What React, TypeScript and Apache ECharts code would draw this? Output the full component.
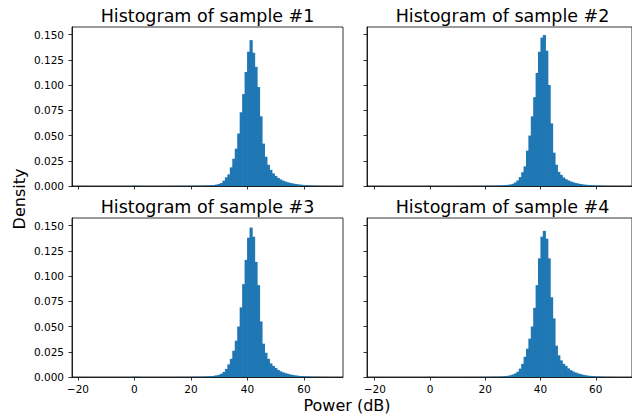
import { useEffect, useRef } from 'react';
import * as echarts from 'echarts';

// Bin layout (left column and right column have their own shared x ranges)
const binStartLeft = -17.7;
const binWidthLeft = 0.872;
const binStartRight = -18.4;
const binWidthRight = 0.871;

const xRangeLeft = [-22.1, 73.8];
const xRangeRight = [-22.8, 73.1];
const yMax = 0.1575;

const xTicks = [-20, 0, 20, 40, 60];
const yTicks = [0, 0.025, 0.05, 0.075, 0.1, 0.125, 0.15];

const titles = [
  'Histogram of sample #1',
  'Histogram of sample #2',
  'Histogram of sample #3',
  'Histogram of sample #4',
];

// density per bin (100 bins each)
const sample1 = [
  0.0001, 0, 0, 0, 0, 0, 0, 0, 0, 0,
  0, 0, 0, 0, 0, 0, 0, 0, 0, 0.0002,
  0.0003, 0.0002, 0, 0, 0, 0, 0, 0, 0, 0,
  0, 0, 0, 0, 0.0001, 0, 0, 0.0001, 0.0001, 0.0001,
  0.0001, 0.0001, 0.0002, 0.0002, 0.0002, 0.0002, 0.0003, 0.0003, 0.0004, 0.0005,
  0.0006, 0.0008, 0.0010, 0.0014, 0.0020, 0.0030, 0.0053, 0.0086, 0.0115, 0.0185,
  0.0270, 0.0370, 0.0520, 0.0730, 0.0910, 0.1130, 0.1330, 0.1445, 0.1320, 0.1180,
  0.0980, 0.0690, 0.0420, 0.0290, 0.0210, 0.0160, 0.0125, 0.0100, 0.0080, 0.0065,
  0.0053, 0.0044, 0.0036, 0.0030, 0.0025, 0.0021, 0.0017, 0.0014, 0.0011, 0.0009,
  0.0007, 0.0005, 0.0004, 0.0003, 0.0002, 0.0002, 0.0001, 0.0001, 0, 0.0001,
];

const sample2 = [
  0.0001, 0, 0, 0, 0, 0, 0, 0, 0, 0,
  0, 0, 0, 0, 0, 0, 0, 0, 0, 0,
  0.0002, 0.0002, 0, 0, 0, 0, 0, 0, 0, 0,
  0, 0, 0, 0, 0, 0.0001, 0, 0, 0, 0.0001,
  0.0001, 0.0001, 0.0001, 0.0001, 0.0002, 0.0002, 0.0002, 0.0003, 0.0003, 0.0004,
  0.0005, 0.0007, 0.0009, 0.0012, 0.0016, 0.0022, 0.0035, 0.0055, 0.0088, 0.0136,
  0.0195, 0.0350, 0.0500, 0.0690, 0.0880, 0.1120, 0.1330, 0.1470, 0.1495, 0.1340,
  0.1000, 0.0620, 0.0330, 0.0210, 0.0140, 0.0110, 0.0085, 0.0068, 0.0055, 0.0045,
  0.0037, 0.0030, 0.0025, 0.0020, 0.0016, 0.0013, 0.0011, 0.0009, 0.0007, 0.0006,
  0.0005, 0.0004, 0.0003, 0.0002, 0.0002, 0.0001, 0.0001, 0, 0, 0.0001,
];

const sample3 = [
  0.0001, 0, 0, 0, 0, 0, 0, 0, 0, 0,
  0, 0, 0, 0, 0, 0, 0, 0, 0, 0.0002,
  0.0003, 0.0002, 0, 0, 0, 0, 0, 0, 0, 0,
  0, 0, 0, 0.0001, 0, 0, 0, 0, 0.0001, 0.0001,
  0.0001, 0.0001, 0.0001, 0.0002, 0.0002, 0.0002, 0.0003, 0.0003, 0.0004, 0.0005,
  0.0007, 0.0009, 0.0012, 0.0016, 0.0022, 0.0032, 0.0050, 0.0080, 0.0125, 0.0180,
  0.0260, 0.0360, 0.0500, 0.0690, 0.0920, 0.1160, 0.1380, 0.1480, 0.1390, 0.1140,
  0.0910, 0.0550, 0.0330, 0.0240, 0.0180, 0.0135, 0.0110, 0.0090, 0.0070, 0.0056,
  0.0046, 0.0038, 0.0031, 0.0025, 0.0020, 0.0016, 0.0013, 0.0010, 0.0008, 0.0006,
  0.0005, 0.0004, 0.0003, 0.0002, 0.0002, 0.0001, 0.0001, 0.0001, 0, 0,
];

const sample4 = [
  0.0001, 0, 0, 0, 0, 0, 0, 0, 0, 0,
  0, 0, 0, 0, 0, 0, 0, 0, 0, 0,
  0.0002, 0.0002, 0.0001, 0, 0, 0, 0, 0, 0, 0,
  0, 0, 0, 0, 0, 0, 0.0001, 0, 0, 0,
  0.0001, 0.0001, 0.0001, 0.0001, 0.0001, 0.0001, 0.0002, 0.0002, 0.0003, 0.0003,
  0.0004, 0.0006, 0.0009, 0.0012, 0.0018, 0.0025, 0.0035, 0.0052, 0.0083, 0.0130,
  0.0200, 0.0280, 0.0380, 0.0500, 0.0685, 0.0910, 0.1175, 0.1390, 0.1447, 0.1370,
  0.1175, 0.0790, 0.0580, 0.0310, 0.0215, 0.0165, 0.0130, 0.0110, 0.0085, 0.0068,
  0.0055, 0.0045, 0.0036, 0.0029, 0.0023, 0.0018, 0.0014, 0.0011, 0.0009, 0.0007,
  0.0005, 0.0004, 0.0003, 0.0002, 0.0002, 0.0001, 0.0001, 0, 0, 0,
];

const samples = [sample1, sample2, sample3, sample4];

const FONT = '"DejaVu Sans", "Liberation Sans", sans-serif';
const BAR = '#1f77b4';

function fmtX(v: number) {
  return v < 0 ? '\u2212' + Math.abs(v) : String(v);
}

export default function App() {
  const ref = useRef<HTMLDivElement>(null);

  useEffect(() => {
    if (!ref.current) return;
    const chart = echarts.init(ref.current, null, { renderer: 'svg' });

    const gridW = 271;
    const gridH = 159;
    const lefts = [72, 367];
    const tops = [27, 218];

    const grids: any[] = [];
    const xAxes: any[] = [];
    const yAxes: any[] = [];
    const series: any[] = [];
    const graphics: any[] = [];

    for (let i = 0; i < 4; i++) {
      const col = i % 2;
      const row = Math.floor(i / 2);
      const left = lefts[col];
      const top = tops[row];
      grids.push({
        left,
        top,
        width: gridW,
        height: gridH,
        show: true,
        borderColor: '#000',
        borderWidth: 0.8,
        backgroundColor: 'transparent',
        containLabel: false,
      });
      const xr = col === 0 ? xRangeLeft : xRangeRight;
      xAxes.push({
        type: 'value',
        gridIndex: i,
        min: xr[0],
        max: xr[1],
        splitLine: { show: false },
        axisLine: { show: true, onZero: false, lineStyle: { color: '#000', width: 0.8 } },
        axisTick: {
          show: true,
          length: 3.5,
          lineStyle: { color: '#000', width: 0.8 },
          customValues: xTicks,
        },
        axisLabel: {
          show: row === 1,
          customValues: xTicks,
          formatter: (v: number) => fmtX(v),
          color: '#000',
          fontFamily: FONT,
          fontSize: 10.5,
          margin: 6.5,
        },
      });
      yAxes.push({
        type: 'value',
        gridIndex: i,
        min: 0,
        max: yMax,
        splitLine: { show: false },
        axisLine: { show: true, onZero: false, lineStyle: { color: '#000', width: 0.8 } },
        axisTick: {
          show: true,
          length: 3.5,
          lineStyle: { color: '#000', width: 0.8 },
          customValues: yTicks,
        },
        axisLabel: {
          show: col === 0,
          customValues: yTicks,
          formatter: (v: number) => v.toFixed(3),
          color: '#000',
          fontFamily: FONT,
          fontSize: 10.5,
          margin: 8,
        },
      });
      const start = col === 0 ? binStartLeft : binStartRight;
      const w = col === 0 ? binWidthLeft : binWidthRight;
      const data = samples[i].map((h, k) => [start + k * w, start + (k + 1) * w, h]);
      series.push({
        type: 'custom',
        xAxisIndex: i,
        yAxisIndex: i,
        data,
        encode: { x: [0, 1], y: 2 },
        clip: true,
        renderItem: (params: any, api: any) => {
          const h = api.value(2);
          if (!h) return null;
          const p0 = api.coord([api.value(0), h]);
          const p1 = api.coord([api.value(1), 0]);
          return {
            type: 'rect',
            shape: { x: p0[0], y: p0[1], width: p1[0] - p0[0] + 0.7, height: p1[1] - p0[1] },
            style: { fill: BAR },
          };
        },
      });
      graphics.push({
        type: 'text',
        x: left + gridW / 2,
        y: top - 11,
        style: {
          text: titles[i],
          fill: '#000',
          font: `17.5px ${FONT}`,
          textAlign: 'center',
          textVerticalAlign: 'middle',
          align: 'center',
          verticalAlign: 'middle',
        },
      });
    }

    graphics.push({
      type: 'text',
      x: 19,
      y: 199,
      rotation: Math.PI / 2,
      style: {
        text: 'Density',
        fill: '#000',
        font: `16px ${FONT}`,
        textAlign: 'center',
        textVerticalAlign: 'middle',
        align: 'center',
        verticalAlign: 'middle',
      },
    });
    graphics.push({
      type: 'text',
      x: 347,
      y: 405,
      style: {
        text: 'Power (dB)',
        fill: '#000',
        font: `16px ${FONT}`,
        textAlign: 'center',
        textVerticalAlign: 'middle',
        align: 'center',
        verticalAlign: 'middle',
      },
    });

    chart.setOption({
      animation: false,
      backgroundColor: '#fff',
      grid: grids,
      xAxis: xAxes,
      yAxis: yAxes,
      series,
      graphic: graphics,
    });

    return () => chart.dispose();
  }, []);

  return (
    <div
      ref={ref}
      style={{ position: 'absolute', left: 0, top: 0, width: 632, height: 417 }}
    />
  );
}
